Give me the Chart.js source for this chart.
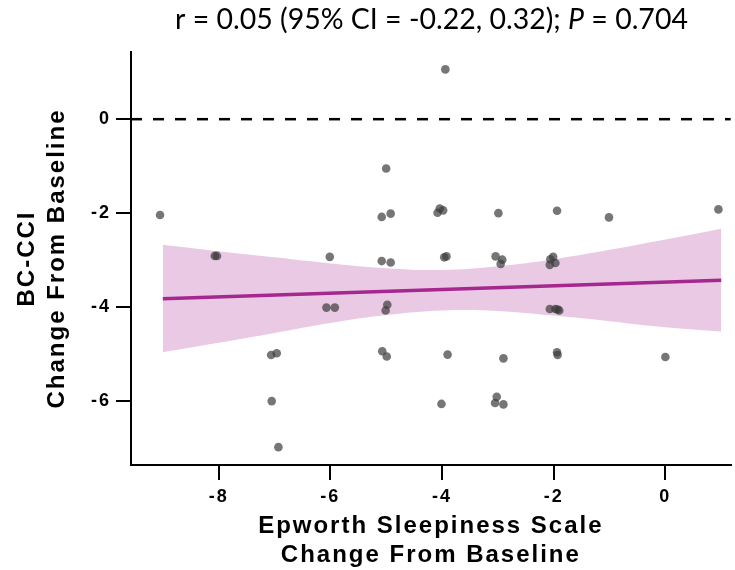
<!DOCTYPE html>
<html>
<head>
<meta charset="utf-8">
<script src="https://cdn.jsdelivr.net/npm/chart.js@4"></script>
<style>
  html, body { margin: 0; padding: 0; background: #fff; }
</style>
</head>
<body>
<canvas id="myChart" width="735" height="570"></canvas>
<script>
// datos
const espChange = [
  -9.05, -5.0, -5.08, -4.92, -8.07, -8.03, -6.01, -5.08, -4.92, -6.07,
  -5.92, -4.98, -5.01, -7.06, -6.96, -5.07, -4.99, -7.05, -6.93, -3.94,
  -4.08, -4.04, -3.98, -2.99, -1.94, -1.01, 0.95, -3.96, -3.92, -3.04,
  -2.92, -2.95, -2.01, -2.06, -2.07, -1.97, -2.07, -1.97, -1.90, -1.93,
  -3.9, -2.9, -1.94, -1.93, 0.0, -4.01, -3.02, -3.05, -2.9
];
const bcCciChange = [
  -2.04, -1.05, -2.08, -2.01, -2.91, -2.91, -2.93, -3.02, -3.05, -4.01,
  -4.01, -3.95, -4.07, -5.02, -4.98, -4.94, -5.05, -6.0, -6.98, 1.06,
  -1.99, -1.90, -1.94, -2.0, -1.95, -2.09, -1.92, -2.94, -2.92, -2.92,
  -2.99, -3.08, -2.93, -2.98, -3.10, -3.06, -4.04, -4.04, -4.07, -4.05,
  -5.01, -5.09, -4.96, -5.02, -5.06, -6.06, -5.91, -6.04, -6.07
];

// recta de regresion y banda IC 95%
const fitX = [-9, 1];
const fitY = [-3.82, -3.43];
const bandX = [-9, -8, -7, -6, -5, -4, -3, -2, -1, 0, 1];
const bandUpper = [-2.67, -2.81, -2.94, -3.07, -3.17, -3.21, -3.13, -2.98, -2.78, -2.56, -2.33];
const bandLower = [-4.96, -4.76, -4.55, -4.34, -4.17, -4.07, -4.08, -4.18, -4.30, -4.43, -4.52];

const xTicks = [-8, -6, -4, -2, 0];
const yTicks = [0, -2, -4, -6];

const titleMain = 'r = 0.05 (95% CI = -0.22, 0.32); ';
const titleP = 'P';
const titleEnd = ' = 0.704';

const family = "'Liberation Sans', Arial, sans-serif";

const pts = (xs, ys) => xs.map((x, i) => ({ x: x, y: ys[i] }));

// espaciado de letras como en el pdf original
const spacing = {
  id: 'spacing',
  beforeUpdate(chart) { chart.ctx.letterSpacing = '2px'; },
  beforeDraw(chart) { chart.ctx.letterSpacing = '2px'; }
};

// linea punteada en y = 0
const zeroLine = {
  id: 'zeroLine',
  beforeDatasetsDraw(chart) {
    const { ctx, chartArea, scales } = chart;
    const y = scales.y.getPixelForValue(0);
    ctx.save();
    ctx.strokeStyle = '#000';
    ctx.lineWidth = 2.5;
    ctx.setLineDash([11, 11]);
    ctx.beginPath();
    ctx.moveTo(chartArea.left, y);
    ctx.lineTo(chartArea.right, y);
    ctx.stroke();
    ctx.restore();
  }
};

// titulo con la P en cursiva
const statTitle = {
  id: 'statTitle',
  afterDraw(chart) {
    const c = chart.ctx;
    c.save();
    c.letterSpacing = '0px';
    const fam = "Lato, 'Open Sans', sans-serif";
    const widthAt = (size) => {
      c.font = size + 'px ' + fam;
      let w = c.measureText(titleMain).width + c.measureText(titleEnd).width;
      c.font = 'italic ' + size + 'px ' + fam;
      return w + c.measureText(titleP).width;
    };
    const size = 22 * 513 / widthAt(22);
    let x = 431.5 - widthAt(size) / 2;
    const y = 29;
    c.fillStyle = '#000';
    c.textBaseline = 'alphabetic';
    c.textAlign = 'left';
    c.font = size + 'px ' + fam;
    c.fillText(titleMain, x, y);
    x += c.measureText(titleMain).width;
    c.font = 'italic ' + size + 'px ' + fam;
    c.fillText(titleP, x, y);
    x += c.measureText(titleP).width;
    c.font = size + 'px ' + fam;
    c.fillText(titleEnd, x, y);
    c.restore();
  }
};

const ctx = document.getElementById('myChart');

new Chart(ctx, {
  type: 'scatter',
  data: {
    datasets: [
      {
        type: 'line',
        label: 'Regresion',
        data: pts(fitX, fitY),
        borderColor: '#a5278f',
        borderWidth: 3.5,
        pointRadius: 0,
        fill: false,
        order: 0
      },
      {
        label: 'Pacientes',
        data: pts(espChange, bcCciChange),
        backgroundColor: 'rgba(60,60,60,0.7)',
        borderColor: 'rgba(60,60,60,0.7)',
        borderWidth: 0,
        pointRadius: 4.3,
        order: 1
      },
      {
        type: 'line',
        label: 'IC superior',
        data: pts(bandX, bandUpper),
        borderColor: 'transparent',
        borderWidth: 0,
        backgroundColor: 'rgba(200,120,185,0.4)',
        pointRadius: 0,
        tension: 0.4,
        fill: '+1',
        order: 2
      },
      {
        type: 'line',
        label: 'IC inferior',
        data: pts(bandX, bandLower),
        borderColor: 'transparent',
        borderWidth: 0,
        pointRadius: 0,
        tension: 0.4,
        fill: false,
        order: 3
      }
    ]
  },
  options: {
    responsive: false,
    animation: false,
    devicePixelRatio: 1,
    layout: { padding: { top: 52, right: 0, left: 0, bottom: 0 } },
    plugins: {
      legend: { display: false },
      tooltip: { enabled: false }
    },
    scales: {
      x: {
        type: 'linear',
        min: -9.57,
        max: 1.17,
        afterBuildTicks: (s) => { s.ticks = xTicks.map(v => ({ value: v })); },
        afterFit: (s) => { s.height = 105; },
        border: { display: true, color: '#000', width: 2 },
        grid: { display: true, drawOnChartArea: false, drawTicks: true, tickLength: 15, color: '#000', lineWidth: 2 },
        ticks: { color: '#000', font: { family: family, size: 18, weight: 'bold' }, padding: 6, maxRotation: 0 },
        title: {
          display: true,
          text: ['Epworth Sleepiness Scale', 'Change From Baseline'],
          color: '#000',
          font: { family: family, size: 24, weight: 'bold', lineHeight: 1.2 },
          padding: { top: 0, bottom: 0 }
        }
      },
      y: {
        type: 'linear',
        min: -7.36,
        max: 1.43,
        afterBuildTicks: (s) => { s.ticks = yTicks.map(v => ({ value: v })); },
        afterFit: (s) => { s.width = 131; },
        border: { display: true, color: '#000', width: 2 },
        grid: { display: true, drawOnChartArea: false, drawTicks: true, tickLength: 15, color: '#000', lineWidth: 2 },
        ticks: { color: '#000', font: { family: family, size: 18, weight: 'bold' }, padding: 5 },
        title: {
          display: true,
          text: ['BC-CCI', 'Change From Baseline'],
          color: '#000',
          font: { family: family, size: 24, weight: 'bold', lineHeight: 1.25 },
          padding: { top: 12, bottom: 0 }
        }
      }
    }
  },
  plugins: [spacing, zeroLine, statTitle]
});
</script>
</body>
</html>
